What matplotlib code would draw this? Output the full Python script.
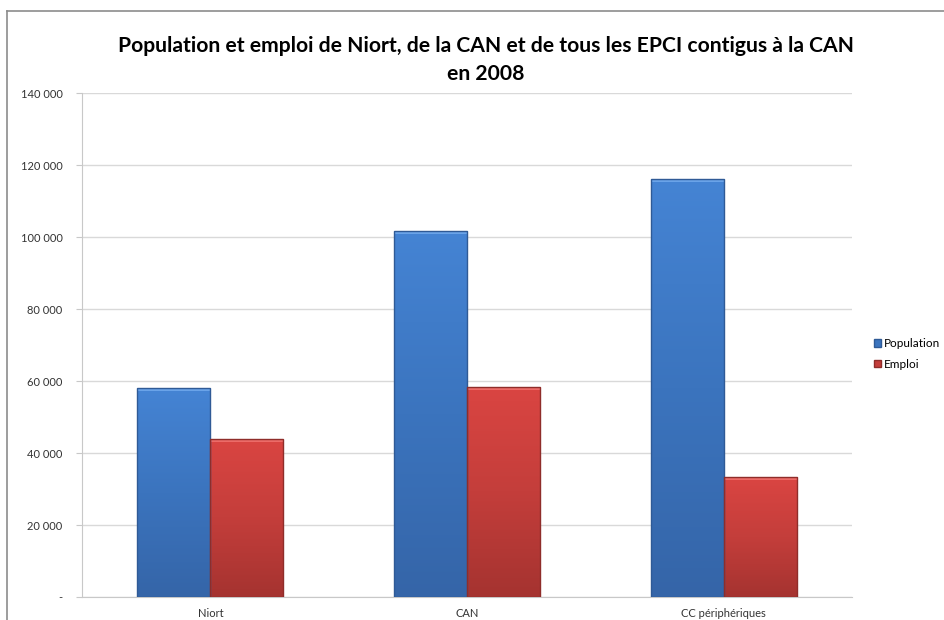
import numpy as np
import matplotlib
matplotlib.use("Agg")
import matplotlib.pyplot as plt
from matplotlib.lines import Line2D
from matplotlib.patches import Rectangle
from matplotlib.colors import LinearSegmentedColormap

categories = ["Niort", "CAN", "CC périphériques"]
population = [58000, 101700, 116100]
emploi = [44000, 58400, 33300]
series_names = ["Population", "Emploi"]
yticks = [0, 20000, 40000, 60000, 80000, 100000, 120000, 140000]
title = "Population et emploi de Niort, de la CAN et de tous les EPCI contigus à la CAN\nen 2008"

plt.rcParams["font.family"] = ["Lato", "DejaVu Sans"]

fig = plt.figure(figsize=(9.44, 6.2), dpi=100)
ax = fig.add_axes([82 / 944, 1 - 597 / 620, 770 / 944, 504 / 620])

x = np.arange(len(categories))
width = 0.285

blue_cmap = LinearSegmentedColormap.from_list("b", ["#3565a8", "#3b74be", "#4584d4"])
red_cmap = LinearSegmentedColormap.from_list("r", ["#a53330", "#c43e3b", "#da4542"])
gradient = np.linspace(0, 1, 256).reshape(-1, 1)


def gradient_bars(xs, values, cmap, top_col, edge_col):
    bars = ax.bar(xs, values, width=width, color="none", edgecolor="none", zorder=3)
    for b in bars:
        x0, y0 = b.get_x(), b.get_y()
        w, h = b.get_width(), b.get_height()
        im = ax.imshow(gradient, cmap=cmap, aspect="auto", origin="lower",
                       extent=[x0, x0 + w, y0, y0 + h], zorder=3)
        im.set_clip_path(b)
        # bevelled top edge
        ax.add_patch(Rectangle((x0, y0 + h - 900), w, 900, facecolor=top_col,
                               edgecolor="none", zorder=4))
        ax.add_patch(Rectangle((x0, y0), w, h, facecolor="none",
                               edgecolor=edge_col, linewidth=1.0, zorder=5))
    return bars


gradient_bars(x - width / 2, population, blue_cmap, "#6aa3e8", "#2f5a96")
gradient_bars(x + width / 2, emploi, red_cmap, "#ec6b68", "#8f2d2a")

ax.set_xlim(-0.5, len(categories) - 0.5)
ax.set_ylim(0, 140000)
ax.set_yticks(yticks)
ax.set_yticklabels(["-" if v == 0 else f"{v:,}".replace(",", " ") for v in yticks])
ax.set_xticks(x)
ax.set_xticklabels(categories)
ax.tick_params(axis="y", labelsize=8, length=4, color="#c8c8c8", pad=10, labelcolor="#333333")
ax.tick_params(axis="x", labelsize=8, length=0, pad=8, labelcolor="#333333")
ax.grid(axis="y", color="#d9d9d9", linewidth=1.0, zorder=0)
ax.set_axisbelow(True)
for s in ["top", "right"]:
    ax.spines[s].set_visible(False)
ax.spines["left"].set_color("#c8c8c8")
ax.spines["bottom"].set_color("#c8c8c8")

handles = [Rectangle((0, 0), 1, 1, facecolor="#3b74be", edgecolor="#2f5a96"),
           Rectangle((0, 0), 1, 1, facecolor="#c43e3b", edgecolor="#8f2d2a")]
fig.legend(handles, series_names, loc="center left", bbox_to_anchor=(863 / 944, 1 - 354 / 620),
           frameon=False, fontsize=8.5, handlelength=0.6, handleheight=0.6,
           handletextpad=0.3, labelspacing=0.8)

fig.text(486 / 944, 1 - 60 / 620, title, ha="center", va="center", fontsize=15.2,
         fontweight="bold", linespacing=1.45)

# chart frame
fig.add_artist(Line2D([7 / 944, 1], [1 - 10.5 / 620] * 2, color="#8c8c8c", linewidth=1.2))
fig.add_artist(Line2D([7 / 944] * 2, [0, 1 - 10.5 / 620], color="#8c8c8c", linewidth=1.2))

fig.savefig("out.png", dpi=100)
